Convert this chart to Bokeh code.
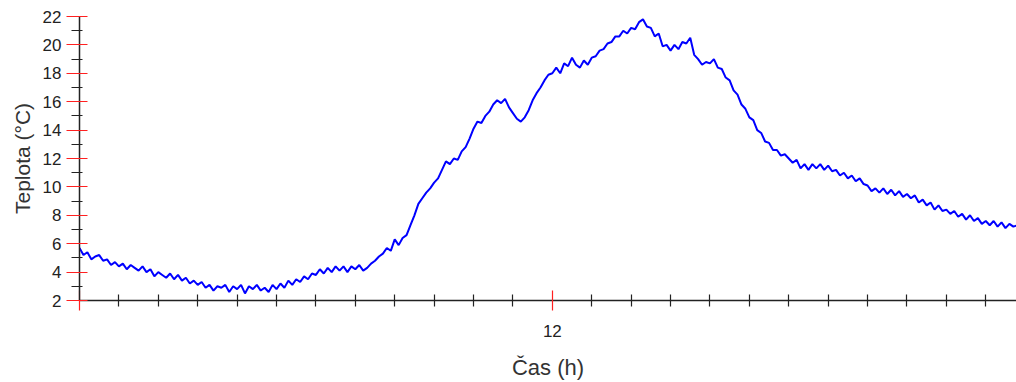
from bokeh.plotting import figure
from bokeh.models import FixedTicker, Range1d
from bokeh.embed import file_html
from bokeh.resources import INLINE

# time in hours (0.1 h step) and temperature
hours = [round(i * 0.1, 1) for i in range(239)]
temps = [
    5.7, 5.2, 5.4, 4.9, 5.1, 5.2, 4.8, 4.9, 4.5, 4.7,
    4.4, 4.6, 4.2, 4.5, 4.3, 4.1, 4.4, 4.0, 4.2, 3.7,
    4.0, 3.8, 3.6, 3.9, 3.5, 3.8, 3.4, 3.6, 3.2, 3.4,
    3.1, 3.3, 2.9, 3.1, 2.7, 3.0, 2.9, 3.1, 2.6, 3.0,
    2.8, 3.1, 2.5, 3.0, 2.8, 3.1, 2.7, 2.9, 2.6, 3.1,
    2.8, 3.2, 2.9, 3.4, 3.1, 3.5, 3.3, 3.7, 3.5, 3.9,
    3.8, 4.2, 3.9, 4.3, 4.0, 4.4, 4.1, 4.4, 4.0, 4.4,
    4.2, 4.5, 4.1, 4.3, 4.6, 4.8, 5.1, 5.3, 5.7, 5.5,
    6.3, 5.9, 6.4, 6.6, 7.3, 8.0, 8.8, 9.2, 9.6, 9.9,
    10.3, 10.6, 11.2, 11.8, 11.6, 12.0, 11.9, 12.5, 12.8, 13.4,
    14.1, 14.6, 14.5, 15.0, 15.3, 15.8, 16.1, 15.9, 16.2, 15.6,
    15.2, 14.8, 14.6, 14.9, 15.4, 16.1, 16.6, 17.0, 17.5, 17.9,
    18.0, 18.4, 18.0, 18.7, 18.5, 19.1, 18.6, 18.4, 18.9, 18.6,
    19.1, 19.2, 19.6, 19.7, 20.1, 20.2, 20.6, 20.6, 21.0, 20.8,
    21.2, 21.1, 21.6, 21.8, 21.3, 21.2, 20.6, 20.8, 19.9, 20.0,
    19.6, 20.0, 19.7, 20.2, 20.1, 20.5, 19.3, 19.0, 18.6, 18.8,
    18.7, 19.0, 18.4, 18.3, 17.7, 17.5, 16.8, 16.5, 15.8, 15.5,
    14.9, 14.7, 14.0, 13.8, 13.2, 13.1, 12.6, 12.6, 12.2, 12.3,
    12.0, 11.7, 11.9, 11.3, 11.6, 11.2, 11.6, 11.3, 11.6, 11.2,
    11.5, 11.1, 11.2, 10.8, 11.0, 10.6, 10.8, 10.4, 10.6, 10.2,
    10.1, 9.7, 9.9, 9.6, 9.9, 9.5, 9.8, 9.4, 9.7, 9.3,
    9.5, 9.2, 9.4, 8.9, 9.1, 8.7, 8.9, 8.4, 8.7, 8.3,
    8.4, 8.1, 8.3, 7.9, 8.1, 7.7, 8.0, 7.6, 7.8, 7.4,
    7.6, 7.3, 7.6, 7.2, 7.5, 7.1, 7.4, 7.2, 7.3,
]

x_major = [0, 12]
x_minor = [h for h in range(1, 24) if h != 12]
y_major = list(range(2, 23, 2))
y_minor = list(range(3, 22, 2))
x_label = "Čas (h)"
y_label = "Teplota (°C)"

p = figure(width=1016, height=382, output_backend="svg", toolbar_location=None,
           x_range=Range1d(0, 23.78), y_range=Range1d(2, 22),
           min_border_left=79, min_border_right=0, min_border_top=16, min_border_bottom=82)
p.outline_line_color = None
p.xgrid.grid_line_color = None
p.ygrid.grid_line_color = None
p.background_fill_color = "white"
p.border_fill_color = "white"

p.line(hours, temps, line_color="#0000ff", line_width=2)

font = "Liberation Sans"
xa = p.xaxis[0]
xa.ticker = FixedTicker(ticks=x_major, minor_ticks=x_minor)
xa.major_label_overrides = {0: ""}
xa.axis_line_color = "#222222"
xa.axis_line_width = 1.5
xa.major_tick_line_color = "#ff2020"
xa.major_tick_line_width = 1.2
xa.major_tick_in = 10
xa.major_tick_out = 10
xa.minor_tick_line_color = "#222222"
xa.minor_tick_line_width = 1.2
xa.minor_tick_in = 6
xa.minor_tick_out = 6
xa.major_label_standoff = 14
xa.major_label_text_font = font
xa.major_label_text_font_size = "17px"
xa.major_label_text_color = "#222222"
xa.axis_label = x_label
xa.axis_label_text_font = font
xa.axis_label_text_font_style = "normal"
xa.axis_label_text_font_size = "22px"
xa.axis_label_text_color = "#333333"
xa.axis_label_standoff = 15

ya = p.yaxis[0]
ya.ticker = FixedTicker(ticks=y_major, minor_ticks=y_minor)
ya.axis_line_color = "#222222"
ya.axis_line_width = 1.5
ya.major_tick_line_color = "#ff2020"
ya.major_tick_line_width = 1.2
ya.major_tick_in = 8
ya.major_tick_out = 13
ya.minor_tick_line_color = "#222222"
ya.minor_tick_line_width = 1.2
ya.minor_tick_in = 3
ya.minor_tick_out = 8
ya.major_label_standoff = 5
ya.major_label_text_font = font
ya.major_label_text_font_size = "17px"
ya.major_label_text_color = "#222222"
ya.axis_label = y_label
ya.axis_label_text_font = font
ya.axis_label_text_font_style = "normal"
ya.axis_label_text_font_size = "21px"
ya.axis_label_text_color = "#333333"
ya.axis_label_standoff = 6

open("out.html", "w").write(file_html(p, INLINE))
